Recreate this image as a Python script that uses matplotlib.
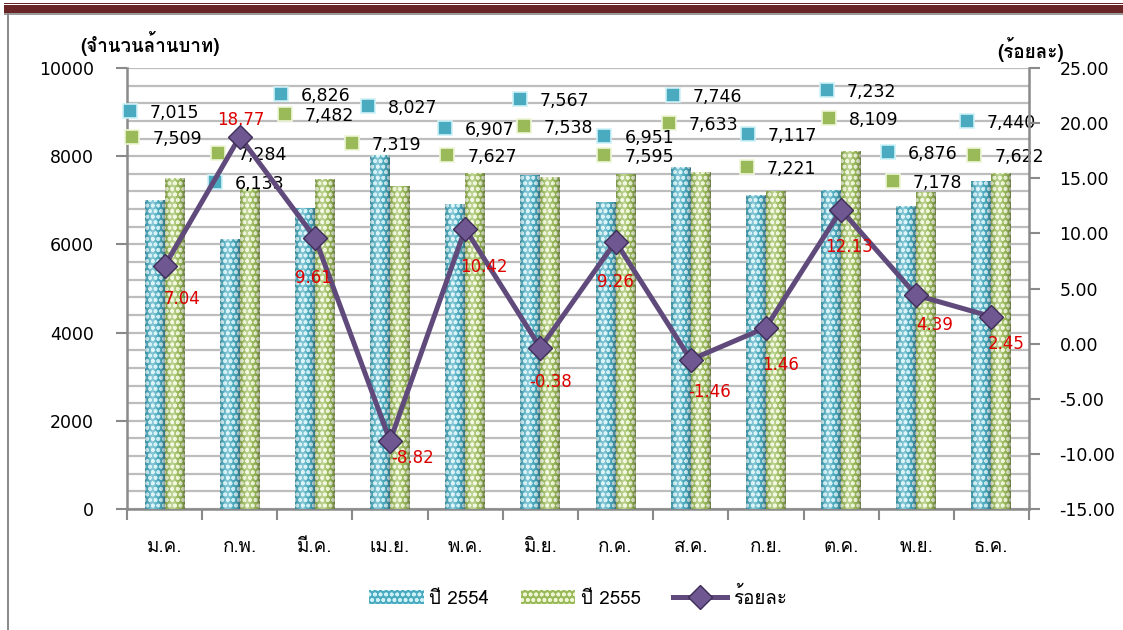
import numpy as np
import matplotlib
matplotlib.use("Agg")
import matplotlib.pyplot as plt
from matplotlib import font_manager
from matplotlib.ft2font import FT2Font
from matplotlib.patches import Rectangle, Patch
from matplotlib.lines import Line2D
from matplotlib.ticker import MultipleLocator, FixedLocator, FuncFormatter

# ---------------- data ----------------
months = ["ม.ค.", "ก.พ.", "มี.ค.", "เม.ย.", "พ.ค.", "มิ.ย.",
          "ก.ค.", "ส.ค.", "ก.ย.", "ต.ค.", "พ.ย.", "ธ.ค."]
y2554 = [7015, 6133, 6826, 8027, 6907, 7567, 6951, 7746, 7117, 7232, 6876, 7440]
y2555 = [7509, 7284, 7482, 7319, 7627, 7538, 7595, 7633, 7221, 8109, 7178, 7622]
pct = [7.04, 18.77, 9.61, -8.82, 10.42, -0.38, 9.26, -1.46, 1.46, 12.13, 4.39, 2.45]
series_names = ["ปี 2554", "ปี 2555", "ร้อยละ"]
left_title = "(จำนวนล้านบาท)"
right_title = "(ร้อยละ)"

# ---------------- layout of data labels ----------------
# key-square positions: (x offset in category units, y in left-axis units)
blue_lbl_dx = [-0.46, -0.33, -0.45, -0.29, -0.27, -0.27, -0.15, -0.24, -0.24, -0.19, -0.38, -0.33]
blue_lbl_y = [9025, 7415, 9410, 9138, 8639, 9297, 8458, 9388, 8503, 9501, 8095, 8798]
green_lbl_dx = [-0.43, -0.29, -0.40, -0.51, -0.24, -0.22, -0.15, -0.29, -0.25, -0.16, -0.31, -0.23]
green_lbl_y = [8435, 8073, 8957, 8299, 8027, 8685, 8027, 8753, 7755, 8866, 7438, 8027]
# line-label offsets in pixels (dx right, dy down)
line_lbl_off = [(17, 33), (1, -17), (-1, 40), (23, 17), (19, 38), (10, 34),
                (0, 40), (19, 32), (15, 37), (8, 37), (18, 30), (15, 27)]

# ---------------- fonts ----------------
def find_thai_font():
    prefs = []
    for f in font_manager.fontManager.ttflist:
        try:
            cm = FT2Font(f.fname).get_charmap()
        except Exception:
            continue
        if 0x0E01 in cm and 0x0E33 in cm:
            prefs.append(f.name)
    return prefs

thai = find_thai_font()
fam = (thai[:1] if thai else []) + ["DejaVu Sans"]
plt.rcParams["font.family"] = fam
num_font = ["DejaVu Sans"]

BLUE = "#4aaabf"
BLUE_H = "#cdf1f7"
GREEN = "#9aba5a"
GREEN_H = "#eef6d6"
PURPLE = "#604a7b"
MARK = "#6f5792"
RED = "#dd0000"
AXC = "#8a8a8a"
GRID = "#bdbdbd"

W, H = 1123, 630
fig = plt.figure(figsize=(W / 100, H / 100), dpi=100)
fig.patch.set_facecolor("white")

L, R, B, T = 127, 1029, 509, 68
ax = fig.add_axes([L / W, 1 - B / H, (R - L) / W, (B - T) / H])
ax2 = ax.twinx()

x = np.arange(len(months))
bw = 0.265
bars1 = ax.bar(x - bw / 2, y2554, bw, color=BLUE, edgecolor="none", zorder=3)
bars2 = ax.bar(x + bw / 2, y2555, bw, color=GREEN, edgecolor="none", zorder=3)
plt.rcParams["hatch.linewidth"] = 1.1
ax.bar(x - bw / 2, y2554, bw, color="none", edgecolor=BLUE_H, hatch="ooo", linewidth=0, zorder=4)
ax.bar(x + bw / 2, y2555, bw, color="none", edgecolor=GREEN_H, hatch="ooo", linewidth=0, zorder=4)

# cylinder shading
t = np.linspace(0, 1, 64)
hl = np.zeros((1, 64, 4)); hl[..., :3] = 1.0
hl[0, :, 3] = 0.35 * np.exp(-((t - 0.38) / 0.18) ** 2)
dk = np.zeros((1, 64, 4))
dk[0, :, 3] = 0.35 * (np.abs(t - 0.45) / 0.55) ** 3
for p in list(bars1) + list(bars2):
    x0, y0 = p.get_x(), p.get_y()
    ext = [x0, x0 + p.get_width(), y0, y0 + p.get_height()]
    for img in (dk, hl):
        im = ax.imshow(img, extent=ext, aspect="auto", zorder=5, interpolation="bilinear")
        im.set_clip_path(p)

ax.set_xlim(-0.5, len(months) - 0.5)
ax.set_ylim(0, 10000)
ax2.set_ylim(-15, 25)

# grid & ticks
ax.yaxis.set_major_locator(MultipleLocator(2000))
ax.yaxis.set_minor_locator(MultipleLocator(400))
ax.grid(which="both", axis="y", color=GRID, linewidth=1.6, zorder=0)
ax.set_axisbelow(True)
ax.tick_params(axis="y", which="major", length=8, width=1.5, color=AXC, pad=16,
               labelsize=12.5)
ax.tick_params(axis="y", which="minor", length=0)
for lb in ax.get_yticklabels():
    lb.set_fontfamily(num_font)

ax.xaxis.set_major_locator(FixedLocator(np.arange(-0.5, len(months), 1.0)))
ax.xaxis.set_minor_locator(FixedLocator(x))
ax.xaxis.set_major_formatter(FuncFormatter(lambda v, p: ""))
ax.set_xticks(x, minor=True)
ax.set_xticklabels(months, minor=True)
ax.tick_params(axis="x", which="major", length=8, width=1.5, color=AXC)
ax.tick_params(axis="x", which="minor", length=0, pad=21, labelsize=13.5)

ax2.yaxis.set_major_locator(MultipleLocator(5))
ax2.yaxis.set_major_formatter(FuncFormatter(lambda v, p: f"{v:.2f}"))
ax2.tick_params(axis="y", length=8, width=1.5, color=AXC, pad=14, labelsize=12.5)
for lb in ax2.get_yticklabels():
    lb.set_fontfamily(num_font)

for a in (ax, ax2):
    a.spines["top"].set_visible(False)
    for s in ("left", "right", "bottom"):
        a.spines[s].set_color(AXC)
        a.spines[s].set_linewidth(1.8)
ax.spines["right"].set_visible(False)
ax2.spines["left"].set_visible(False)
ax2.spines["bottom"].set_visible(False)
ax.patch.set_visible(False)

# percentage line
ax2.plot(x, pct, color=PURPLE, linewidth=3.6, marker="D", markersize=12,
         markerfacecolor=MARK, markeredgecolor="#3e2d57", markeredgewidth=1.0,
         zorder=10, solid_joinstyle="miter")
for i, v in enumerate(pct):
    dx, dy = line_lbl_off[i]
    ax2.annotate(f"{v:.2f}", (x[i], v), xytext=(dx, -dy), textcoords="offset pixels",
                 ha="center", va="center", color=RED, fontsize=12,
                 family=num_font, zorder=11)

# bar data labels with legend keys
for i in range(len(months)):
    for dxs, ys, vals, col, hc in ((blue_lbl_dx, blue_lbl_y, y2554, BLUE, BLUE_H),
                                   (green_lbl_dx, green_lbl_y, y2555, GREEN, GREEN_H)):
        px, py = x[i] + dxs[i], ys[i]
        ax.plot([px], [py], marker="s", markersize=10.5, markerfacecolor=col,
                markeredgecolor=hc, markeredgewidth=1.2, zorder=8, clip_on=False)
        ax.annotate(f"{vals[i]:,}", (px, py), xytext=(20, -2), textcoords="offset pixels",
                    ha="left", va="center", fontsize=12.5, family=num_font,
                    color="black", zorder=9, annotation_clip=False)

# axis titles
fig.text(80 / W, 1 - 43 / H, left_title, ha="left", va="center", fontsize=13.5,
         fontweight="bold")
fig.text(1031 / W, 1 - 49 / H, right_title, ha="center", va="center", fontsize=13.5,
         fontweight="bold")

# legend
handles = [Patch(facecolor=BLUE, edgecolor=BLUE_H, hatch="ooo", linewidth=0),
           Patch(facecolor=GREEN, edgecolor=GREEN_H, hatch="ooo", linewidth=0),
           Line2D([], [], color=PURPLE, linewidth=3.6, marker="D", markersize=12,
                  markerfacecolor=MARK, markeredgecolor="#3e2d57")]
fig.legend(handles, series_names, loc="center", bbox_to_anchor=(578 / W, 1 - 597 / H),
           ncol=3, frameon=False, fontsize=13.5, handlelength=2.9, handleheight=0.8,
           handletextpad=0.3, columnspacing=1.7)

# decoration: top band and left border
fig.patches.append(Rectangle((4 / W, 1 - 4.3 / H), 1, 1.6 / H, transform=fig.transFigure,
                             facecolor="#6a2626", edgecolor="none"))
fig.patches.append(Rectangle((4 / W, 1 - 12.8 / H), 1, 7.6 / H, transform=fig.transFigure,
                             facecolor="#6a2626", edgecolor="none"))
fig.patches.append(Rectangle((4 / W, 1 - 14.6 / H), 1, 1.8 / H, transform=fig.transFigure,
                             facecolor="#9a9a9a", edgecolor="none"))
fig.patches.append(Rectangle((6.8 / W, 0), 2.0 / W, 1 - 13 / H, transform=fig.transFigure,
                             facecolor="#8c8c8c", edgecolor="none"))

fig.savefig("out.png", dpi=100)
